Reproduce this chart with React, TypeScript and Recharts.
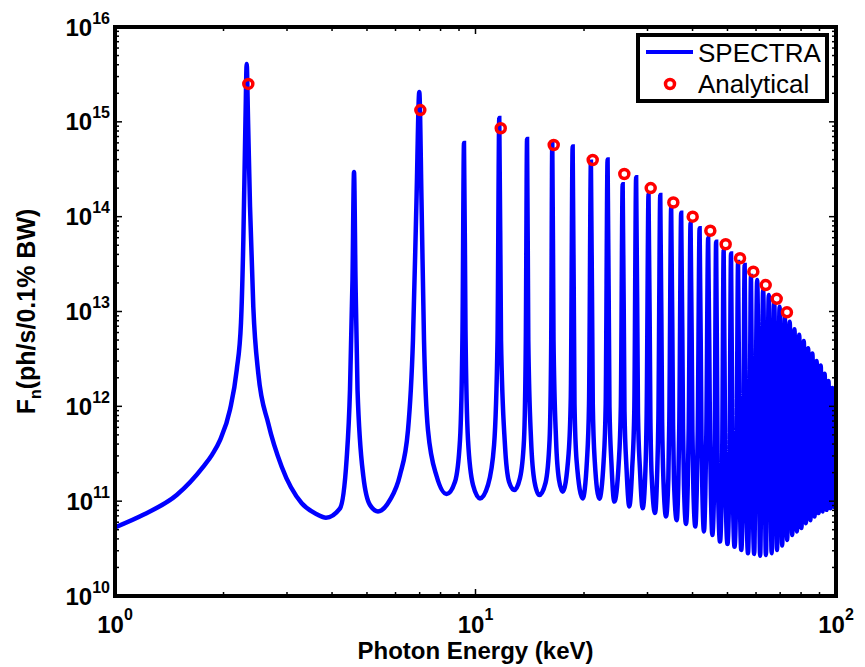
import React from "react";
import { LineChart, Line, XAxis, YAxis, Legend, ReferenceLine } from "recharts";

// SPECTRA curve: harmonic peaks (keV, ph/s/0.1% BW)
const peakE = [2.319, 4.603, 6.984, 9.291, 11.64, 13.9, 16.33, 18.6, 20.9, 23.25, 25.6, 27.9, 30.2, 32.55, 34.9,
  37.2, 39.5, 41.85, 44.2, 46.5, 48.8, 51.15, 53.5, 55.8, 58.1, 60.45, 62.8, 65.1, 67.4, 69.75, 72.1, 74.4, 76.7,
  79.05, 81.4, 83.7, 86.0, 88.35, 90.7, 93.0, 95.3, 97.65, 100];
const peakF = [4.07e15, 2.96e14, 2.06e15, 5.98e14, 1.1e15, 6.6e14, 6.1e14, 5.5e14, 3.8e14, 4.0e14, 2.2e14, 2.6e14,
  1.73e14, 1.69e14, 1.26e14, 1.1e14, 8.6e13, 7.55e13, 5.96e13, 5.45e13, 4.46e13, 4.1e13, 3.33e13, 3.1e13, 2.37e13,
  2.15e13, 1.69e13, 1.49e13, 1.23e13, 1.12e13, 8.8e12, 7.8e12, 6.5e12, 5.7e12, 4.9e12, 4.1e12, 3.6e12, 3.0e12,
  2.7e12, 2.2e12, 1.85e12, 1.56e12, 1.5e12];

// minima between neighbouring harmonics
const troughE = [3.848, 5.364, 8.321, 10.29, 12.81, 15.03, 17.46, 19.83, 22.05, 24.27, 26.71, 29.09, 31.48, 33.77,
  36.15, 38.36, 40.72, 43.03, 45.39, 47.67, 50.0, 52.3, 54.6, 57.0, 59.3, 61.6, 63.9, 66.3, 68.6, 70.9, 73.2, 75.6,
  77.9, 80.2, 82.5, 84.9, 87.2, 89.5, 91.8, 94.2, 96.5, 98.8];
const troughF = [6.7e10, 7.8e10, 1.19e11, 1.07e11, 1.31e11, 1.16e11, 1.26e11, 1.07e11, 1.06e11, 9.9e10, 8.8e10,
  8.4e10, 7.5e10, 6.9e10, 6.3e10, 5.75e10, 5.4e10, 4.8e10, 4.4e10, 3.75e10, 3.54e10, 3.3e10, 3.06e10, 2.83e10,
  2.78e10, 2.65e10, 2.7e10, 2.83e10, 3.05e10, 3.4e10, 3.9e10, 4.4e10, 4.8e10, 5.2e10, 5.85e10, 6.3e10, 6.9e10,
  7.5e10, 7.8e10, 8.1e10, 8.4e10, 8.7e10];

// points on the flanks of the peaks
const wingE = [
  1.198, 1.483, 1.758, 1.86, 1.956, 2.084, 2.176, 2.236, 2.27, 2.301, 2.339, 2.369, 2.419, 2.497, 2.662, 2.9, 3.296,
  3.627,
  4.209, 4.392, 4.486, 4.558, 4.647, 4.707, 4.885, 5.097,
  5.792, 6.174, 6.497, 6.707, 6.86, 7.083, 7.197, 7.383, 7.806,
  8.773, 9.057, 9.204, 9.381, 9.533, 9.842,
  10.83, 11.26, 11.51, 11.77, 12.07, 12.39,
  13.29, 13.63, 13.79, 14.01, 14.26, 14.58,
  15.64, 16.05, 16.22, 16.46, 16.73, 17.05,
  18.13, 18.38, 18.82, 19.07,
  20.38, 20.65, 21.15, 21.42,
  22.67, 22.97, 23.53, 23.83,
  24.96, 25.3, 25.9, 26.24,
  27.2, 27.57, 28.23, 28.6,
  29.6, 29.84, 30.56, 30.8,
  31.9, 32.16, 32.94, 33.2,
  34.27, 34.48, 35.32, 35.53,
  36.53, 36.75, 37.65, 37.87,
  38.79, 39.03, 39.97, 40.21,
  41.1, 41.35, 42.35, 42.6,
  43.4, 43.67, 44.73, 45.0,
  46.04, 46.96, 48.31, 49.29, 50.64, 51.66, 52.97, 54.04, 55.24, 56.36, 57.52, 58.68,
];
const wingF = [
  7.2e10, 1.16e11, 2.31e11, 3.1e11, 4.4e11, 9.2e11, 2.42e12, 7.6e12, 5.7e13, 1.05e15, 1.05e15, 1.27e14, 1.12e13,
  2.23e12, 6.6e11, 2.31e11, 9.5e10, 7.3e10,
  8.4e10, 2.82e11, 1.49e12, 2.15e13, 2.15e13, 1.49e12, 1.83e11, 9.1e10,
  1.03e11, 1.89e11, 5.6e11, 5.0e12, 1.5e14, 1.5e14, 5.0e12, 5.6e11, 1.82e11,
  1.6e11, 4.4e11, 6.4e12, 6.4e12, 4.4e11, 1.48e11,
  1.48e11, 3.92e11, 5.0e12, 5.0e12, 3.92e11, 1.6e11,
  1.76e11, 4.4e11, 5.0e12, 5.0e12, 4.4e11, 1.6e11,
  1.56e11, 4.4e11, 5.0e12, 5.0e12, 4.4e11, 1.67e11,
  3.2e11, 1.26e12, 1.07e12, 2.7e11,
  2.7e11, 1.07e12, 1.06e12, 2.65e11,
  2.65e11, 1.06e12, 9.9e11, 2.5e11,
  2.5e11, 9.9e11, 8.8e11, 2.2e11,
  2.2e11, 8.8e11, 8.4e11, 2.1e11,
  2.1e11, 8.4e11, 7.5e11, 1.9e11,
  1.9e11, 7.5e11, 6.9e11, 1.74e11,
  1.74e11, 6.9e11, 6.3e11, 1.6e11,
  1.6e11, 6.3e11, 5.75e11, 1.45e11,
  1.45e11, 5.75e11, 5.4e11, 1.36e11,
  1.36e11, 5.4e11, 4.8e11, 1.2e11,
  1.2e11, 4.8e11, 4.4e11, 1.1e11,
  2.8e11, 2.37e11, 2.37e11, 2.24e11, 2.24e11, 2.1e11, 2.1e11, 1.94e11, 1.94e11, 1.79e11, 1.79e11, 1.76e11,
];

// start of the curve at 1 keV
const edgeE = [1.0];
const edgeF = [5.3e10];

// analytical odd harmonics
const analyticalE = [2.343, 7.03, 11.75, 16.48, 21.14, 25.87, 30.62, 35.38, 40.04, 44.81, 49.43, 54.17, 58.97,
  63.83, 68.47, 73.1];
const analyticalF = [2.51e15, 1.33e15, 8.55e14, 5.7e14, 3.96e14, 2.82e14, 2.0e14, 1.41e14, 1.0e14, 7.1e13, 5.12e13,
  3.64e13, 2.63e13, 1.9e13, 1.36e13, 9.8e12];

const seriesNames = ["SPECTRA", "Analytical"];

// axis ticks
const xTicks = [1, 2, 3, 4, 5, 6, 7, 8, 9, 10, 20, 30, 40, 50, 60, 70, 80, 90, 100];
const xMajor = [1, 10, 100];
const xExp = ["0", "1", "2"];
const yMajor = [1e10, 1e11, 1e12, 1e13, 1e14, 1e15, 1e16];
const yExp = ["10", "11", "12", "13", "14", "15", "16"];
const minorSteps = [1, 2, 3, 4, 5, 6, 7, 8, 9];
const yTicks = yMajor.flatMap((d, i) => (i === yMajor.length - 1 ? [d] : minorSteps.map((m) => m * d)));

const toPoints = (es: number[], fs: number[]) => es.map((e, i) => ({ e, f: fs[i] }));
const spectra = [
  ...toPoints(edgeE, edgeF),
  ...toPoints(peakE, peakF),
  ...toPoints(troughE, troughF),
  ...toPoints(wingE, wingF),
].sort((a, b) => a.e - b.e);
const analytical = toPoints(analyticalE, analyticalF);

const FONT = "'Liberation Sans', Arial, Helvetica, sans-serif";
const axisStyle = { stroke: "#000", strokeWidth: 4, strokeLinecap: "square" as const };

function xTick(side: "bottom" | "top") {
  return (p: any) => {
    const { x, y, payload } = p;
    const i = xMajor.indexOf(payload.value);
    const len = i >= 0 ? 7 : 4;
    const dir = side === "bottom" ? -1 : 1;
    return (
      <g>
        <line x1={x} x2={x} y1={y} y2={y + dir * len} stroke="#000" strokeWidth={1.5} />
        {side === "bottom" && i >= 0 && (
          <text x={x} y={y + 37} textAnchor="middle" fontFamily={FONT} fontWeight="bold" fill="#000">
            <tspan fontSize={24}>10</tspan>
            <tspan fontSize={16} dy={-13}>{xExp[i]}</tspan>
          </text>
        )}
      </g>
    );
  };
}

function yTick(side: "left" | "right") {
  return (p: any) => {
    const { x, y, payload } = p;
    const i = yMajor.indexOf(payload.value);
    const len = i >= 0 ? 7 : 4;
    const dir = side === "left" ? 1 : -1;
    return (
      <g>
        <line x1={x} x2={x + dir * len} y1={y} y2={y} stroke="#000" strokeWidth={1.5} />
        {side === "left" && i >= 0 && (
          <text x={x - 5} y={y + 8.5} textAnchor="end" fontFamily={FONT} fontWeight="bold" fill="#000">
            <tspan fontSize={24}>10</tspan>
            <tspan fontSize={16} dy={-12}>{yExp[i]}</tspan>
          </text>
        )}
      </g>
    );
  };
}

function XTitle(props: any) {
  const { viewBox } = props;
  return (
    <text x={viewBox.x + viewBox.width / 2} y={viewBox.y + 63} textAnchor="middle" fontFamily={FONT}
      fontWeight="bold" fontSize={24} fill="#000">
      Photon Energy (keV)
    </text>
  );
}

function YTitle(props: any) {
  const { viewBox } = props;
  const x = viewBox.x + 27;
  const y = viewBox.y + viewBox.height / 2;
  return (
    <text x={x} y={y} transform={`rotate(-90, ${x}, ${y})`} textAnchor="middle" fontFamily={FONT}
      fontWeight="bold" fontSize={25} fill="#000">
      <tspan>F</tspan>
      <tspan fontSize={16} dy={6}>n</tspan>
      <tspan dy={-6}>(ph/s/0.1% BW)</tspan>
    </text>
  );
}

function LegendBox() {
  return (
    <svg width={193} height={70} style={{ display: "block" }}>
      <rect x={2} y={2} width={189} height={66} fill="#fff" stroke="#000" strokeWidth={4} />
      <line x1={10} x2={57} y1={19} y2={19} stroke="#0000ff" strokeWidth={4} />
      <text x={62} y={29} fontFamily={FONT} fontSize={26} fill="#000">{seriesNames[0]}</text>
      <circle cx={34} cy={51} r={4.5} fill="none" stroke="#ff0000" strokeWidth={3.5} />
      <text x={62} y={60} fontFamily={FONT} fontSize={26} fill="#000">{seriesNames[1]}</text>
    </svg>
  );
}

export default function App() {
  return (
    <LineChart width={850} height={659} margin={{ top: 18, right: 21, bottom: 0, left: 0 }}>
      <XAxis dataKey="e" type="number" scale="log" domain={[1, 100]} allowDataOverflow ticks={xTicks}
        interval={0} tickSize={0} tickMargin={0} height={71} axisLine={axisStyle} tickLine={false}
        tick={xTick("bottom")} label={<XTitle />} />
      <XAxis xAxisId="top" orientation="top" dataKey="e" type="number" scale="log" domain={[1, 100]}
        allowDataOverflow ticks={xTicks} interval={0} tickSize={0} tickMargin={0} height={1}
        axisLine={axisStyle} tickLine={false} tick={xTick("top")} />
      <YAxis dataKey="f" type="number" scale="log" domain={[1e10, 1e16]} allowDataOverflow ticks={yTicks}
        interval={0} tickSize={0} tickMargin={0} width={107} axisLine={axisStyle} tickLine={false}
        tick={yTick("left")} label={<YTitle />} />
      <YAxis yAxisId="right" orientation="right" dataKey="f" type="number" scale="log" domain={[1e10, 1e16]}
        allowDataOverflow ticks={yTicks} interval={0} tickSize={0} tickMargin={0} width={1}
        axisLine={axisStyle} tickLine={false} tick={yTick("right")} />
      <ReferenceLine y={1e16} stroke="#000" strokeWidth={4} />
      <ReferenceLine x={100} stroke="#000" strokeWidth={4} />
      <Line data={spectra} dataKey="f" name={seriesNames[0]} type="monotoneX" stroke="#0000ff" strokeWidth={4.5}
        dot={false} isAnimationActive={false} />
      <Line data={analytical} dataKey="f" name={seriesNames[1]} stroke="none"
        dot={{ r: 4.5, stroke: "#ff0000", strokeWidth: 3.5, fill: "none" }} isAnimationActive={false} />
      <Legend content={<LegendBox />} layout="vertical" align="center" verticalAlign="middle"
        wrapperStyle={{ left: 628, top: 25, width: 193, height: 70 }} />
    </LineChart>
  );
}
